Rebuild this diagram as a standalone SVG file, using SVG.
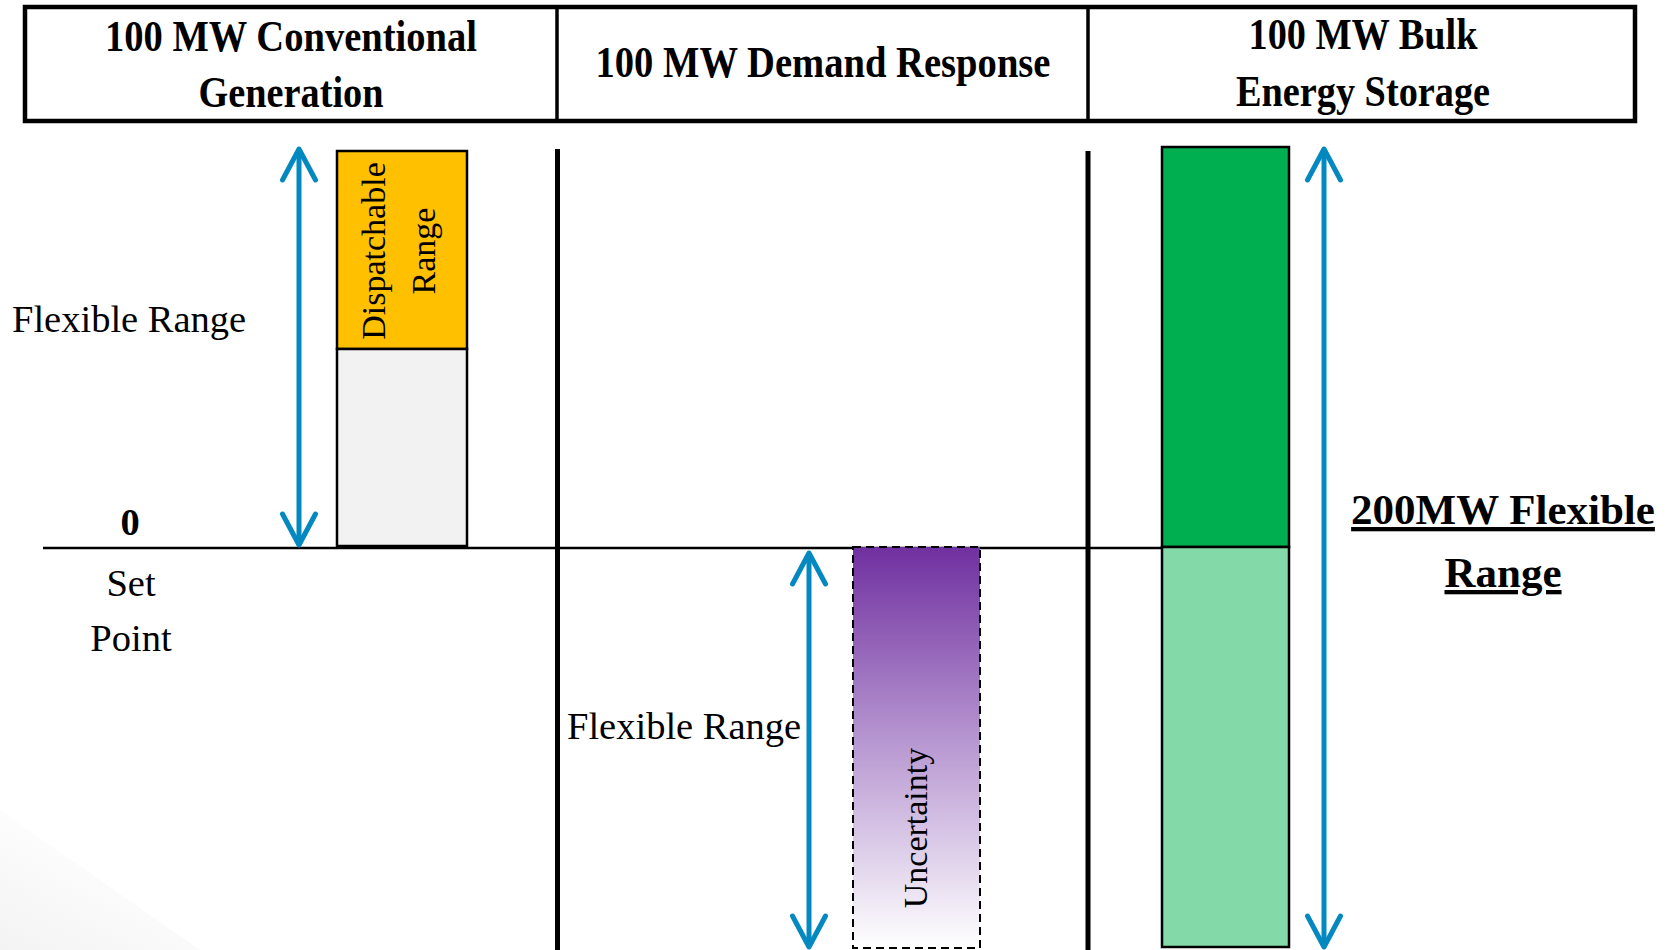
<svg xmlns="http://www.w3.org/2000/svg" width="1668" height="950" viewBox="0 0 1668 950">
  <style>
    .hdr { font-family: "Liberation Serif", "Times New Roman", serif; font-weight: bold; font-size: 44px; text-anchor: middle; fill: #000; }
    .body { font-family: "Liberation Serif", "Times New Roman", serif; font-size: 38.5px; fill: #000; }
    .rot { font-family: "Liberation Serif", "Times New Roman", serif; font-size: 34px; text-anchor: middle; fill: #000; }
    .big { font-family: "Liberation Serif", "Times New Roman", serif; font-weight: bold; font-size: 43px; text-anchor: middle; text-decoration: underline; fill: #000; }
    .box { stroke: #000; stroke-width: 2.5; }
    .flex { fill: none; stroke: #0389BF; stroke-width: 5; marker-start: url(#chev); marker-end: url(#chev); }
    .divider { stroke: #000; stroke-width: 5; }
  </style>
  <defs>
    <marker id="chev" markerUnits="userSpaceOnUse" orient="auto-start-reverse" overflow="visible" refX="0" refY="0" markerWidth="40" markerHeight="40">
      <path d="M-31,-16.5 L0,0 L-31,16.5" fill="none" stroke="#0389BF" stroke-width="5" stroke-linecap="round" stroke-linejoin="round"/>
    </marker>
    <linearGradient id="purple" x1="0" y1="0" x2="0" y2="1">
      <stop offset="0" stop-color="#7030A0"/>
      <stop offset="0.5" stop-color="#B99AD2"/>
      <stop offset="1" stop-color="#FFFFFF"/>
    </linearGradient>
    <linearGradient id="shade" x1="0" y1="1" x2="0.6" y2="0.2">
      <stop offset="0" stop-color="#F3F3F3"/>
      <stop offset="1" stop-color="#FFFFFF"/>
    </linearGradient>
  </defs>

  <rect width="1668" height="950" fill="#FFFFFF"/>
  <polygon points="0,810 200,950 0,950" fill="url(#shade)"/>

  <g id="header">
    <rect x="25" y="7" width="1610" height="114" fill="#FFFFFF" stroke="#000" stroke-width="4.5"/>
    <line x1="557" y1="7" x2="557" y2="121" stroke="#000" stroke-width="3.5"/>
    <line x1="1088" y1="7" x2="1088" y2="121" stroke="#000" stroke-width="3.5"/>
    <text class="hdr" x="291" y="51" textLength="372" lengthAdjust="spacingAndGlyphs">100 MW Conventional</text>
    <text class="hdr" x="291" y="107" textLength="185" lengthAdjust="spacingAndGlyphs">Generation</text>
    <text class="hdr" x="823" y="77" textLength="455" lengthAdjust="spacingAndGlyphs">100 MW Demand Response</text>
    <text class="hdr" x="1363" y="49" textLength="229" lengthAdjust="spacingAndGlyphs">100 MW Bulk</text>
    <text class="hdr" x="1363" y="106" textLength="254" lengthAdjust="spacingAndGlyphs">Energy Storage</text>
  </g>

  <g id="axes">
    <line x1="43" y1="548" x2="1163" y2="548" stroke="#000" stroke-width="2.5"/>
    <line class="divider" x1="557.5" y1="149" x2="557.5" y2="950"/>
    <line class="divider" x1="1088" y1="151" x2="1088" y2="950"/>
  </g>

  <g id="conventional">
    <rect class="box" x="337" y="151" width="130" height="198" fill="#FFC000"/>
    <rect class="box" x="337" y="349" width="130" height="197" fill="#F2F2F2"/>
    <text class="rot" transform="translate(385,251) rotate(-90)">Dispatchable</text>
    <text class="rot" transform="translate(435,251) rotate(-90)">Range</text>
    <text class="body" x="12" y="332">Flexible Range</text>
    <text class="body" x="130" y="535" text-anchor="middle" font-weight="bold">0</text>
    <text class="body" x="131" y="596" text-anchor="middle">Set</text>
    <text class="body" x="131" y="651" text-anchor="middle">Point</text>
  </g>

  <g id="demand-response">
    <rect x="853" y="547" width="127" height="401" fill="url(#purple)" stroke="#000" stroke-width="2" stroke-dasharray="8,5"/>
    <text class="rot" transform="translate(927,828) rotate(-90)">Uncertainty</text>
    <text class="body" x="567" y="739">Flexible Range</text>
  </g>

  <g id="storage">
    <rect class="box" x="1162" y="147" width="127" height="400" fill="#00B050"/>
    <rect class="box" x="1162" y="547" width="127" height="400" fill="#84D9A8"/>
    <text class="big" x="1503" y="524">200MW Flexible</text>
    <text class="big" x="1503" y="587">Range</text>
  </g>

  <g id="connectors">
    <path class="flex" d="M299,545 L299,149"/>
    <path class="flex" d="M809,947 L809,553"/>
    <path class="flex" d="M1324,947 L1324,149"/>
  </g>
</svg>
